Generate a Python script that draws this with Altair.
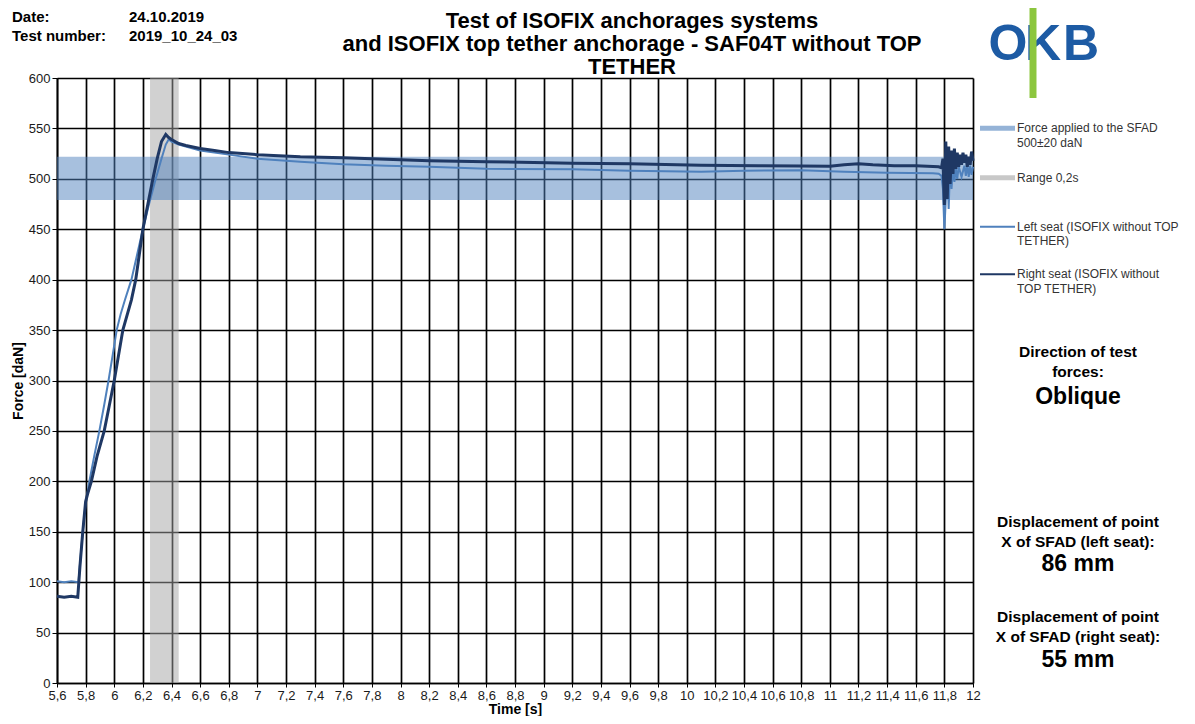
import altair as alt
import pandas as pd

FONT = "Liberation Sans"

# ---------------- data ----------------
left_time = [5.60, 5.65, 5.70, 5.75, 5.765, 5.78, 5.80, 5.826, 5.86, 5.896, 5.93, 5.96, 5.99, 6.017,
             6.045, 6.075, 6.12, 6.16, 6.20, 6.245, 6.29, 6.33, 6.36, 6.38, 6.40, 6.45, 6.50, 6.60,
             6.70, 6.80, 7.00, 7.30, 7.60, 7.90, 8.20, 8.60, 9.20, 9.60, 10.10, 10.40, 10.80, 11.10,
             11.40, 11.72, 11.76, 11.78, 11.79, 11.80, 11.81, 11.82, 11.83, 11.84, 11.85, 11.86,
             11.87, 11.88, 11.89, 11.90, 11.92, 11.94, 11.95, 11.96, 11.97, 11.98, 11.99, 12.00]
left_force = [101, 100, 101, 100, 125, 150, 178, 200, 225, 250, 276, 300, 326, 350,
              366, 380, 400, 425, 450, 476, 500, 520, 534, 539, 537, 534, 532, 528,
              526, 524, 520, 517, 514.5, 513, 512, 510, 509.5, 508, 507, 508, 508.5, 507,
              506, 505.5, 505, 503, 490, 450, 480, 520, 470, 515, 490, 512,
              497, 510, 500, 512, 502, 513, 503, 514, 502, 513, 504, 512]

right_time = [5.60, 5.65, 5.70, 5.745, 5.76, 5.78, 5.80, 5.815, 5.84, 5.88, 5.93, 5.965, 6.00, 6.03,
              6.06, 6.12, 6.15, 6.175, 6.20, 6.235, 6.27, 6.30, 6.33, 6.36, 6.38, 6.40, 6.45, 6.50,
              6.60, 6.70, 6.80, 7.00, 7.30, 7.60, 7.90, 8.20, 8.60, 9.20, 9.60, 10.10, 10.50, 10.80,
              11.00, 11.10, 11.20, 11.30, 11.45, 11.60, 11.76, 11.78, 11.79, 11.80, 11.81, 11.82,
              11.83, 11.84, 11.85, 11.86, 11.87, 11.88, 11.89, 11.90, 11.91, 11.92, 11.93, 11.94,
              11.95, 11.96, 11.97, 11.98, 11.99, 12.00]
right_force = [86, 85, 86, 85, 115, 150, 180, 188, 200, 225, 250, 275, 300, 325,
               350, 380, 400, 425, 450, 475, 500, 520, 537, 544, 541, 539, 535, 533,
               530, 528, 526, 524, 522, 521, 519.5, 518, 517, 515.5, 515, 513.5, 513, 512.7,
               512.5, 514, 515, 514, 513, 513, 512, 511, 520, 474, 537, 480,
               532, 495, 528, 505, 530, 510, 526, 512, 524, 514, 526, 516,
               524, 512, 522, 514, 527, 518]

assert len(left_time) == len(left_force)
assert len(right_time) == len(right_force)

x_ticks = [5.6, 5.8, 6.0, 6.2, 6.4, 6.6, 6.8, 7.0, 7.2, 7.4, 7.6, 7.8, 8.0, 8.2, 8.4, 8.6, 8.8,
           9.0, 9.2, 9.4, 9.6, 9.8, 10.0, 10.2, 10.4, 10.6, 10.8, 11.0, 11.2, 11.4, 11.6, 11.8, 12.0]
y_ticks = [0, 50, 100, 150, 200, 250, 300, 350, 400, 450, 500, 550, 600]

force_band = [479, 522]      # 500 +- 20 daN band as drawn
range_band = [6.25, 6.45]    # Range 0,2 s

header_labels = ["Date:", "Test number:"]
header_values = ["24.10.2019", "2019_10_24_03"]
title_lines = ["Test of ISOFIX anchorages systems",
               "and ISOFIX top tether anchorage - SAF04T without TOP",
               "TETHER"]
legend_labels = [["Force applied to the SFAD", "500±20 daN"],
                 ["Range 0,2s"],
                 ["Left seat (ISOFIX without TOP", "TETHER)"],
                 ["Right seat (ISOFIX without", "TOP TETHER)"]]

# ---------------- scales / axes ----------------
xscale = alt.Scale(domain=[5.6, 12.0], nice=False, zero=False)
yscale = alt.Scale(domain=[0, 600], nice=False)

xaxis = alt.Axis(values=x_ticks, labelExpr="replace(format(datum.value, '.1~f'), '.', ',')",
                 title="Time [s]", grid=True, gridColor="#000000", gridWidth=1.7,
                 domainColor="#000000", domainWidth=1.7, tickColor="#000000", tickSize=4,
                 labelFont=FONT, labelFontSize=13, labelColor="#1a1a1a", labelPadding=2,
                 labelOverlap=False, labelFlush=False, labelBound=False,
                 titleFont=FONT, titleFontSize=14, titleFontWeight="bold", titleColor="#000000",
                 titleBaseline="alphabetic", titleY=30)
yaxis = alt.Axis(values=y_ticks, title="Force [daN]", grid=True, gridColor="#000000", gridWidth=1.7,
                 domainColor="#000000", domainWidth=1.7, tickColor="#000000", tickSize=5,
                 labelFont=FONT, labelFontSize=13, labelColor="#1a1a1a", labelPadding=2,
                 labelOverlap=False,
                 titleFont=FONT, titleFontSize=14, titleFontWeight="bold", titleColor="#000000",
                 titlePadding=3)

band_df = pd.DataFrame({"x0": [5.6], "x1": [12.0], "y0": [force_band[0]], "y1": [force_band[1]]})
range_df = pd.DataFrame({"x0": [range_band[0]], "x1": [range_band[1]], "y0": [0], "y1": [600]})
left_df = pd.DataFrame({"t": left_time, "f": left_force})
right_df = pd.DataFrame({"t": right_time, "f": right_force})

gray = alt.Chart(range_df).mark_rect(color="#a3a3a3", opacity=0.5).encode(
    x=alt.X("x0:Q", scale=xscale, axis=xaxis), x2="x1:Q",
    y=alt.Y("y0:Q", scale=yscale, axis=yaxis), y2="y1:Q")
band = alt.Chart(band_df).mark_rect(color="#4f81bd", opacity=0.5).encode(
    x=alt.X("x0:Q", scale=xscale, axis=xaxis), x2="x1:Q",
    y=alt.Y("y0:Q", scale=yscale, axis=yaxis), y2="y1:Q")
left_line = alt.Chart(left_df).mark_line(color="#4f81bd", strokeWidth=2).encode(
    x=alt.X("t:Q", scale=xscale, axis=xaxis), y=alt.Y("f:Q", scale=yscale, axis=yaxis))
right_line = alt.Chart(right_df).mark_line(color="#1f3864", strokeWidth=3).encode(
    x=alt.X("t:Q", scale=xscale, axis=xaxis), y=alt.Y("f:Q", scale=yscale, axis=yaxis))

one = pd.DataFrame({"a": [0]})


def txt(s, px, py, size, bold=False, align="left", color="#000000"):
    return alt.Chart(one).mark_text(text=s, fontSize=size, fontWeight="bold" if bold else "normal",
                                    align=align, baseline="middle", font=FONT, color=color).encode(
        x=alt.value(px), y=alt.value(py))


def hline(x1, x2, y, color, w):
    return alt.Chart(one).mark_rule(color=color, strokeWidth=w).encode(
        x=alt.value(x1), x2=alt.value(x2), y=alt.value(y))


layers = [gray, band, left_line, right_line]

# header
layers += [txt(header_labels[0], -45, -61, 15, True), txt(header_values[0], 72, -61, 15, True),
           txt(header_labels[1], -45, -42, 15, True), txt(header_values[1], 72, -42, 15, True)]
# title
for i, yy in enumerate([-57, -34, -11]):
    layers.append(txt(title_lines[i], 575, yy, 22, True, "center"))

# logo
logo_blue = "#1d5ba4"
layers += [txt("O", 951, -33, 50, True, "center", logo_blue),
           txt("K", 968, -33, 50, True, "left", logo_blue),
           txt("B", 1006, -33, 50, True, "left", logo_blue),
           alt.Chart(one).mark_rule(color="#8cc63e", strokeWidth=7).encode(
               x=alt.value(976), y=alt.value(-71), y2=alt.value(20))]

# legend
sw = [(50.3, "#95b3d7", 5), (99.7, "#c8c8c8", 5), (148.7, "#4f81bd", 2), (196.3, "#1f3864", 2)]
for (yy, c, w), labs in zip(sw, legend_labels):
    layers.append(hline(923, 958, yy, c, w))
    for j, lab in enumerate(labs):
        layers.append(txt(lab, 960, yy + 14.5 * j, 12, False, "left", "#333333"))

# right-hand notes
cx = 1021
layers += [txt("Direction of test", cx, 273.7, 15.5, True, "center"),
           txt("forces:", cx, 293.7, 15.5, True, "center"),
           txt("Oblique", cx, 318.7, 23, True, "center"),
           txt("Displacement of point", cx, 443.7, 15.5, True, "center"),
           txt("X of SFAD (left seat):", cx, 463.7, 15.5, True, "center"),
           txt("86 mm", cx, 486, 23, True, "center"),
           txt("Displacement of point", cx, 538.7, 15.5, True, "center"),
           txt("X of SFAD (right seat):", cx, 558.5, 15.5, True, "center"),
           txt("55 mm", cx, 582, 23, True, "center")]

chart = alt.layer(*layers).properties(
    width=916, height=605,
    padding={"left": 49, "top": 70, "right": 207, "bottom": 33},
    autosize=alt.AutoSizeParams(type="none"),
    background="white",
).configure_view(stroke=None)

chart.save("out.html", embed_options={"renderer": "svg", "actions": False})
